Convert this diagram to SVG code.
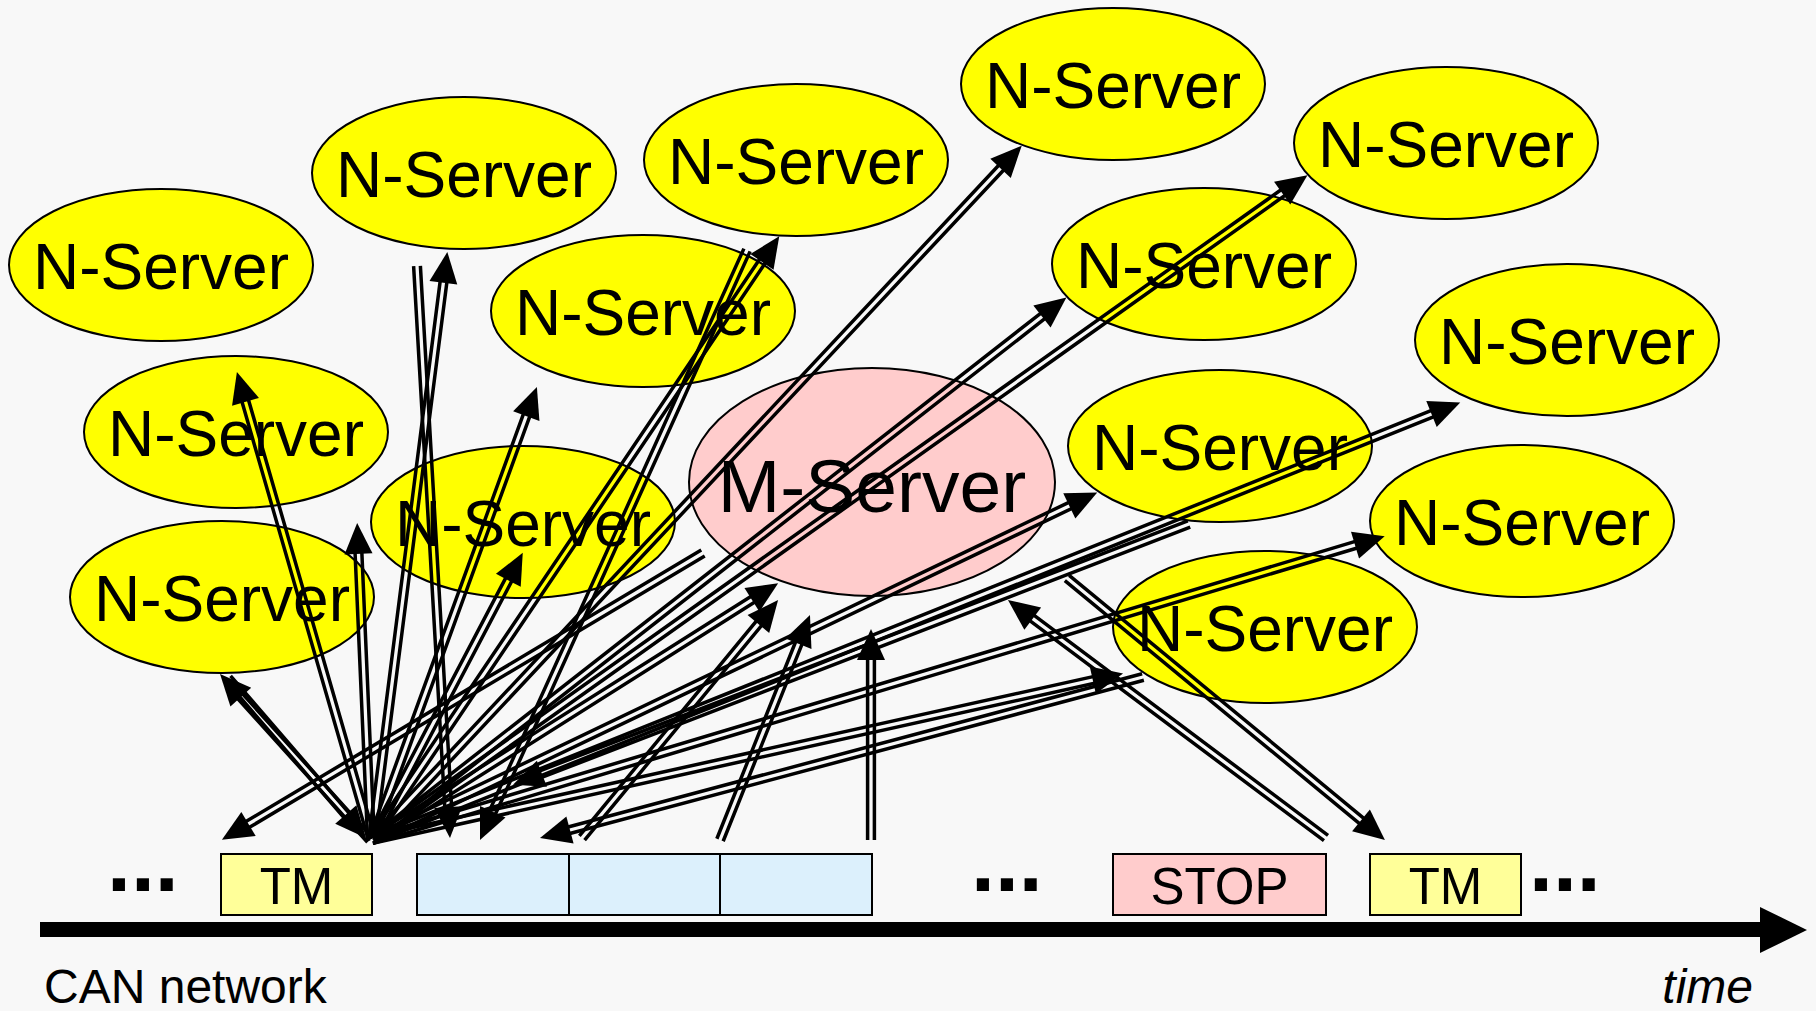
<svg xmlns="http://www.w3.org/2000/svg" xmlns:xlink="http://www.w3.org/1999/xlink" width="1816" height="1011" viewBox="0 0 1816 1011">
  <style>
    .ns { fill: #ffff00; stroke: #000; stroke-width: 2; }
    .ms { fill: #ffcccc; stroke: #000; stroke-width: 2; }
    .lbl { font-family: "Liberation Sans", Arial, sans-serif; font-size: 64px; text-anchor: middle; fill: #000; }
    .mlbl { font-size: 75px; }
    .slot { stroke: #000; stroke-width: 2; }
    .tm { fill: #ffff99; }
    .data { fill: #dcf0fc; }
    .stop { fill: #ffcccc; }
    .blbl { font-family: "Liberation Sans", Arial, sans-serif; font-size: 51px; text-anchor: middle; fill: #000; }
    .dots { font-family: "Liberation Sans", Arial, sans-serif; font-size: 86px; font-weight: bold; fill: #000; }
    .cap { font-family: "Liberation Sans", Arial, sans-serif; font-size: 48px; fill: #000; }
    .dl { fill: none; stroke: #000; stroke-width: 3.5; }
  </style>
  <defs>
    <!-- arrowhead, tip at the origin, pointing along +x -->
    <path id="ah" d="M0 0L-31 -14L-31 14Z" fill="#000"/>
  </defs>

  <rect width="1816" height="1011" fill="#f8f8f8"/>

  <!-- servers -->
  <g id="n1"><ellipse class="ns" cx="161" cy="265" rx="152" ry="76"/><text class="lbl" x="161" y="289">N-Server</text></g>
  <g id="n2"><ellipse class="ns" cx="464" cy="173" rx="152" ry="76"/><text class="lbl" x="464" y="197">N-Server</text></g>
  <g id="n3"><ellipse class="ns" cx="796" cy="160" rx="152" ry="76"/><text class="lbl" x="796" y="184">N-Server</text></g>
  <g id="n4"><ellipse class="ns" cx="1113" cy="84" rx="152" ry="76"/><text class="lbl" x="1113" y="108">N-Server</text></g>
  <g id="n5"><ellipse class="ns" cx="1446" cy="143" rx="152" ry="76"/><text class="lbl" x="1446" y="167">N-Server</text></g>
  <g id="n6"><ellipse class="ns" cx="236" cy="432" rx="152" ry="76"/><text class="lbl" x="236" y="456">N-Server</text></g>
  <g id="n7"><ellipse class="ns" cx="643" cy="311" rx="152" ry="76"/><text class="lbl" x="643" y="335">N-Server</text></g>
  <g id="n8"><ellipse class="ns" cx="1204" cy="264" rx="152" ry="76"/><text class="lbl" x="1204" y="288">N-Server</text></g>
  <g id="n9"><ellipse class="ns" cx="1567" cy="340" rx="152" ry="76"/><text class="lbl" x="1567" y="364">N-Server</text></g>
  <g id="n10"><ellipse class="ns" cx="222" cy="597" rx="152" ry="76"/><text class="lbl" x="222" y="621">N-Server</text></g>
  <g id="n11"><ellipse class="ns" cx="523" cy="522" rx="152" ry="76"/><text class="lbl" x="523" y="546">N-Server</text></g>
  <g id="m-server"><ellipse class="ms" cx="872" cy="482" rx="183" ry="114"/><text class="lbl mlbl" x="872" y="512">M-Server</text></g>
  <g id="n13"><ellipse class="ns" cx="1220" cy="446" rx="152" ry="76"/><text class="lbl" x="1220" y="470">N-Server</text></g>
  <g id="n14"><ellipse class="ns" cx="1522" cy="521" rx="152" ry="76"/><text class="lbl" x="1522" y="545">N-Server</text></g>
  <g id="n15"><ellipse class="ns" cx="1265" cy="627" rx="152" ry="76"/><text class="lbl" x="1265" y="651">N-Server</text></g>

  <!-- CAN frames on the bus -->
  <g id="tm1"><rect class="slot tm" x="221" y="854" width="151" height="61"/><text class="blbl" x="296.5" y="904">TM</text></g>
  <g id="data1"><rect class="slot data" x="417" y="854" width="152" height="61"/></g>
  <g id="data2"><rect class="slot data" x="569" y="854" width="151" height="61"/></g>
  <g id="data3"><rect class="slot data" x="720" y="854" width="152" height="61"/></g>
  <g id="stop"><rect class="slot stop" x="1113" y="854" width="213" height="61"/><text class="blbl" x="1219.5" y="904">STOP</text></g>
  <g id="tm2"><rect class="slot tm" x="1370" y="854" width="151" height="61"/><text class="blbl" x="1445.5" y="904">TM</text></g>

  <text class="dots" x="107" y="891">...</text>
  <text class="dots" x="971" y="891">...</text>
  <text class="dots" x="1529" y="891">...</text>

  <!-- time axis -->
  <g id="axis">
    <rect x="40" y="922" width="1722" height="15" fill="#000"/>
    <path d="M1760 907L1807 930L1760 953Z" fill="#000"/>
  </g>
  <text class="cap" x="44" y="1003">CAN network</text>
  <text class="cap" x="1753" y="1003" font-style="italic" text-anchor="end">time</text>

  <!-- message arrows: each drawn in its own frame, double line along +x, head at the far end -->
  <g id="connectors">
    <!-- TM to every server -->
    <g transform="translate(370 840) rotate(-132.1)"><path class="dl" d="M0 -3.4H199M0 3.4H199"/><use href="#ah" x="223.7"/></g>
    <g transform="translate(372 840) rotate(-106.1)"><path class="dl" d="M0 -3.4H462M0 3.4H462"/><use href="#ah" x="487.1"/></g>
    <g transform="translate(371 840) rotate(-92.5)"><path class="dl" d="M0 -3.4H292M0 3.4H292"/><use href="#ah" x="317.3"/></g>
    <g transform="translate(372 840) rotate(-82.7)"><path class="dl" d="M0 -3.4H568M0 3.4H568"/><use href="#ah" x="592.8"/></g>
    <g transform="translate(372 840) rotate(-70.0)"><path class="dl" d="M0 -3.4H457M0 3.4H457"/><use href="#ah" x="482.1"/></g>
    <g transform="translate(372 840) rotate(-62.3)"><path class="dl" d="M0 -3.4H299M0 3.4H299"/><use href="#ah" x="324.3"/></g>
    <g transform="translate(372 840) rotate(-56.0)"><path class="dl" d="M0 -3.4H703M0 3.4H703"/><use href="#ah" x="728.3"/></g>
    <g transform="translate(372 840) rotate(-46.9)"><path class="dl" d="M0 -3.4H926M0 3.4H926"/><use href="#ah" x="950.9"/></g>
    <g transform="translate(372 840) rotate(-38.0)"><path class="dl" d="M0 -3.4H856M0 3.4H856"/><use href="#ah" x="881.2"/></g>
    <g transform="translate(372 840) rotate(-35.4)"><path class="dl" d="M0 -3.4H1122M0 3.4H1122"/><use href="#ah" x="1147.6"/></g>
    <g transform="translate(372 840) rotate(-25.6)"><path class="dl" d="M0 -3.4H779M0 3.4H779"/><use href="#ah" x="804.2"/></g>
    <g transform="translate(372 840) rotate(-21.9)"><path class="dl" d="M0 -3.4H1148M0 3.4H1148"/><use href="#ah" x="1172.9"/></g>
    <g transform="translate(372 840) rotate(-16.7)"><path class="dl" d="M0 -3.4H1032M0 3.4H1032"/><use href="#ah" x="1057.3"/></g>
    <g transform="translate(372 840) rotate(-12.5)"><path class="dl" d="M0 -3.4H744M0 3.4H744"/><use href="#ah" x="769.3"/></g>
    <g transform="translate(372 840) rotate(-32.3)"><path class="dl" d="M0 -3.4H455M0 3.4H455"/><use href="#ah" x="480.5"/></g>
    <!-- data frames to the M-Server -->
    <g transform="translate(582 838) rotate(-50.5)"><path class="dl" d="M0 -3.4H283M0 3.4H283"/><use href="#ah" x="308.3"/></g>
    <g transform="translate(720 840) rotate(-68.2)"><path class="dl" d="M0 -3.4H217M0 3.4H217"/><use href="#ah" x="242.3"/></g>
    <g transform="translate(871 840) rotate(-90)"><path class="dl" d="M0 -3.4H186M0 3.4H186"/><use href="#ah" x="211"/></g>
    <!-- server replies down to the bus -->
    <g transform="translate(417 266) rotate(86.7)"><path class="dl" d="M0 -3.4H548M0 3.4H548"/><use href="#ah" x="573"/></g>
    <g transform="translate(747 250) rotate(114.35)"><path class="dl" d="M0 -3.4H622M0 3.4H622"/><use href="#ah" x="647.6"/></g>
    <g transform="translate(228 678) rotate(49.2)"><path class="dl" d="M0 -3.4H186M0 3.4H186"/><use href="#ah" x="211.3"/></g>
    <g transform="translate(703 553) rotate(149.2)"><path class="dl" d="M0 -3.4H535M0 3.4H535"/><use href="#ah" x="560.1"/></g>
    <g transform="translate(1143 677) rotate(165.05)"><path class="dl" d="M0 -3.4H599M0 3.4H599"/><use href="#ah" x="624.1"/></g>
    <g transform="translate(1189 524) rotate(158.9)"><path class="dl" d="M0 -3.4H700M0 3.4H700"/><use href="#ah" x="724.6"/></g>
    <g transform="translate(1067 578) rotate(39.5)"><path class="dl" d="M0 -3.4H387M0 3.4H387"/><use href="#ah" x="412"/></g>
    <!-- STOP to the M-Server -->
    <g transform="translate(1326 838) rotate(-143.2)"><path class="dl" d="M0 -3.4H372M0 3.4H372"/><use href="#ah" x="397.2"/></g>
  </g>
</svg>
